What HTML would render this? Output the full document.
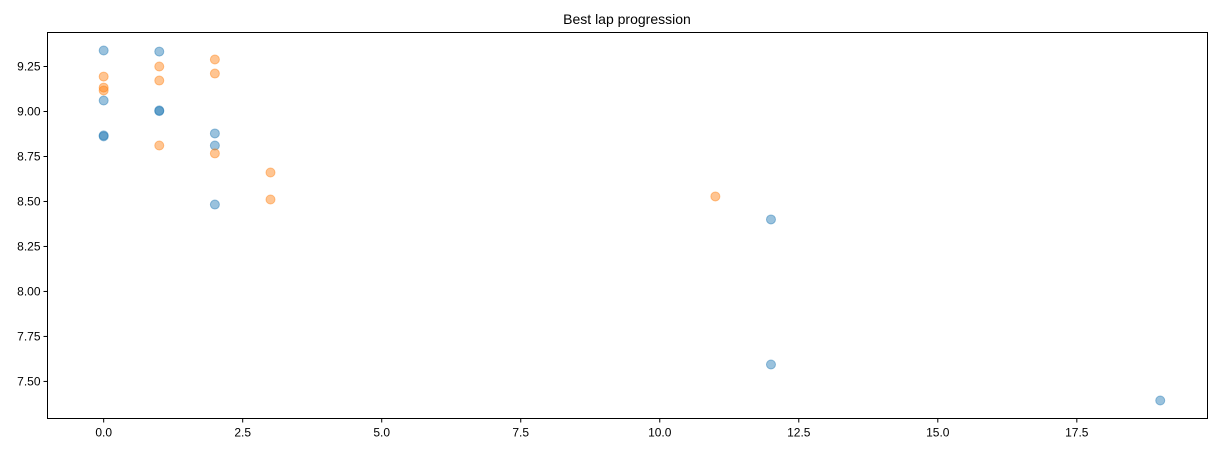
<!DOCTYPE html>
<html><head><meta charset="utf-8"><style>
body{margin:0;background:#fff;}
svg{display:block;font-family:"Liberation Sans","DejaVu Sans",sans-serif;}
</style></head><body>
<svg id="chart" width="1222" height="451">
<text x="627" y="24" text-anchor="middle" font-size="14">Best lap progression</text>
<g id="axes"></g>
<g id="marks"></g>
<rect x="47.5" y="32.5" width="1160" height="386" fill="none" stroke="#000" stroke-width="1"/>
</svg>
<script>
const blueX=[0,0,0,0,1,1,1,2,2,2,12,12,19];
const blueY=[9.339,9.061,8.867,8.862,9.333,9.006,9.002,8.878,8.811,8.483,8.40,7.594,7.394];
const orangeX=[0,0,0,1,1,1,2,2,2,3,3,11];
const orangeY=[9.194,9.133,9.117,9.25,9.172,8.811,9.289,9.211,8.767,8.661,8.511,8.528];
const xTicks=[0,2.5,5,7.5,10,12.5,15,17.5];
const xTickLabels=["0.0","2.5","5.0","7.5","10.0","12.5","15.0","17.5"];
const yTicks=[7.5,7.75,8,8.25,8.5,8.75,9,9.25];
const yTickLabels=["7.50","7.75","8.00","8.25","8.50","8.75","9.00","9.25"];
const L=47.5,R=1207.5,T=32.5,B=418.5;
const xMin=-1.01,xMax=19.85,yMin=7.294,yMax=9.439;
const sx=v=>L+(v-xMin)/(xMax-xMin)*(R-L);
const sy=v=>B-(v-yMin)/(yMax-yMin)*(B-T);
const NS="http://www.w3.org/2000/svg";
const axes=document.getElementById('axes'),marks=document.getElementById('marks');
function mk(t,a,p){const e=document.createElementNS(NS,t);for(const k in a)e.setAttribute(k,a[k]);p.appendChild(e);return e;}
xTicks.forEach((v,i)=>{
 const x=sx(v);
 const l=mk('line',{x1:x,x2:x,y1:B,y2:B+4,stroke:'#000'},axes);
 
 
 const t=mk('text',{x:x,y:B+18,'text-anchor':'middle','font-size':12},axes);
 t.textContent=xTickLabels[i];
 
 
});
yTicks.forEach((v,i)=>{
 const y=sy(v);
 const l=mk('line',{x1:L-4,x2:L,y1:y,y2:y,stroke:'#000'},axes);
 
 
 const t=mk('text',{x:L-7,y:y+4,'text-anchor':'end','font-size':12},axes);
 t.textContent=yTickLabels[i];
 
 
});
blueX.forEach((v,i)=>{
 const c=mk('circle',{cx:sx(v),cy:sy(blueY[i]),r:4.5,fill:'#1f77b4','fill-opacity':0.45,stroke:'#1f77b4','stroke-opacity':0.45},marks);
 
 
});
orangeX.forEach((v,i)=>{
 const c=mk('circle',{cx:sx(v),cy:sy(orangeY[i]),r:4.5,fill:'#ff7f0e','fill-opacity':0.45,stroke:'#ff7f0e','stroke-opacity':0.45},marks);
 
 
});
</script>
</body></html>
